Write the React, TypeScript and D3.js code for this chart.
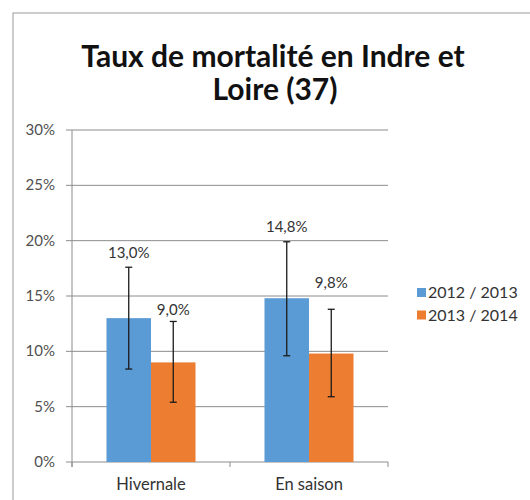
import React from 'react';
import * as d3 from 'd3';

// chart data
const categories = ['Hivernale', 'En saison'];
const seriesNames = ['2012 / 2013', '2013 / 2014'];
const seriesColors = ['#5B9BD5', '#ED7D31'];
const values2012 = [13.0, 14.8];
const values2013 = [9.0, 9.8];
// error bar extents (low / high, in %)
const low2012 = [8.4, 9.6];
const high2012 = [17.6, 19.9];
const low2013 = [5.4, 5.9];
const high2013 = [12.7, 13.8];
// where the value labels sit (in %), they were moved by hand in the original
const labelAt2012 = [18.4, 20.8];
const labelAt2013 = [13.3, 15.7];
const yTicks = [0, 5, 10, 15, 20, 25, 30];

const W = 530;
const H = 500;
const font = 'Lato, "Open Sans", sans-serif';

export default function App() {
  const x0 = d3.scaleBand().domain(categories).range([72, 388]).paddingInner(0).paddingOuter(0);
  const y = d3.scaleLinear().domain([0, 30]).range([462, 130]);
  const inner = d3.scaleBand().domain(seriesNames).range([0, x0.bandwidth()]).paddingOuter(0.775);

  const series = [
    { name: seriesNames[0], color: seriesColors[0], values: values2012, low: low2012, high: high2012, labelAt: labelAt2012 },
    { name: seriesNames[1], color: seriesColors[1], values: values2013, low: low2013, high: high2013, labelAt: labelAt2013 },
  ];

  const fmt = (v: number) => v.toFixed(1).replace('.', ',') + '%';

  return (
    <svg width={W} height={H} style={{ position: 'absolute', left: 0, top: 0, background: '#fff' }}>
      <rect x={13} y={13} width={700} height={700} fill="#fff" stroke="#9a9a9a" strokeWidth={1} />

      <text x={273} y={67} textAnchor="middle" fontFamily={font} fontWeight="bold" fontSize={30} fill="#111">
        Taux de mortalité en Indre et
      </text>
      <text x={275} y={100} textAnchor="middle" fontFamily={font} fontWeight="bold" fontSize={30} fill="#111">
        Loire (37)
      </text>

      {/* gridlines and y ticks */}
      {yTicks.map((t) => (
        <g key={t}>
          <line x1={66} x2={388} y1={y(t)} y2={y(t)} stroke="#8c8c8c" strokeWidth={1} />
          <text x={55} y={y(t) + 5} textAnchor="end" fontFamily={font} fontSize={15} fill="#505050">
            {t}%
          </text>
        </g>
      ))}
      <line x1={72} x2={72} y1={y(30)} y2={y(0) + 5} stroke="#8c8c8c" />
      {[...categories.map((c) => x0(c)!), 388].map((xv, i) => (
        <line key={i} x1={xv} x2={xv} y1={y(0)} y2={y(0) + 5} stroke="#8c8c8c" />
      ))}

      {/* bars */}
      {series.map((s) =>
        categories.map((c, i) => {
          const bx = x0(c)! + inner(s.name)!;
          const bw = inner.bandwidth();
          const cx = bx + bw / 2;
          return (
            <g key={s.name + c}>
              <rect x={bx} y={y(s.values[i])} width={bw} height={y(0) - y(s.values[i])} fill={s.color} />
              <line x1={cx} x2={cx} y1={y(s.high[i])} y2={y(s.low[i])} stroke="#1a1a1a" strokeWidth={1.3} />
              <line x1={cx - 3.5} x2={cx + 3.5} y1={y(s.high[i])} y2={y(s.high[i])} stroke="#1a1a1a" strokeWidth={1.3} />
              <line x1={cx - 3.5} x2={cx + 3.5} y1={y(s.low[i])} y2={y(s.low[i])} stroke="#1a1a1a" strokeWidth={1.3} />
              <text x={cx} y={y(s.labelAt[i])} textAnchor="middle" fontFamily={font} fontSize={15} fill="#333">
                {fmt(s.values[i])}
              </text>
            </g>
          );
        })
      )}

      {/* category labels */}
      {categories.map((c) => (
        <text key={c} x={x0(c)! + x0.bandwidth() / 2} y={490} textAnchor="middle" fontFamily={font} fontSize={16.5} fill="#333">
          {c}
        </text>
      ))}

      {/* legend */}
      {series.map((s, i) => (
        <g key={s.name} transform={`translate(417, ${288 + i * 22.5})`}>
          <rect x={0} y={0} width={9} height={9} fill={s.color} />
          <text x={11} y={10} fontFamily={font} fontSize={16} fill="#333">
            {s.name}
          </text>
        </g>
      ))}
    </svg>
  );
}
